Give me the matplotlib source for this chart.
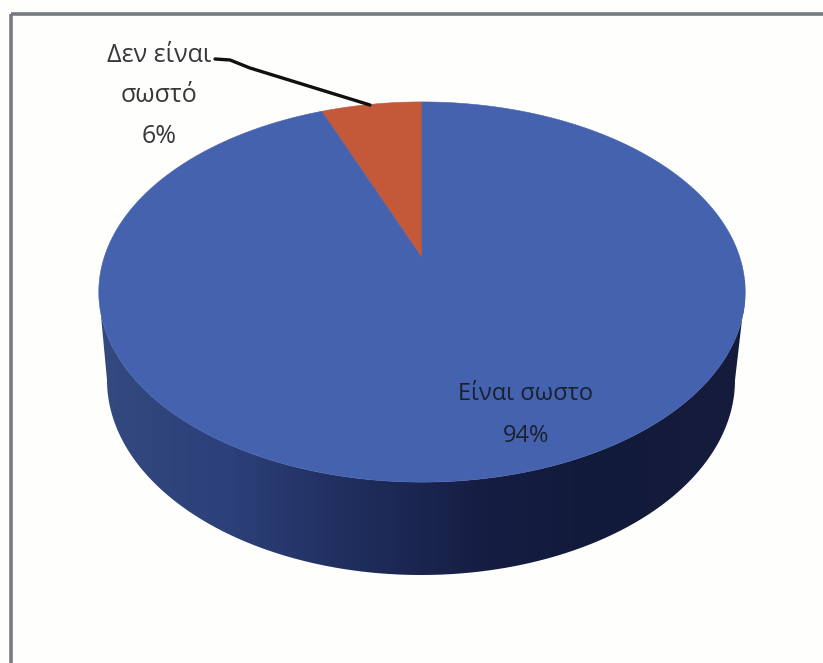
import numpy as np
import matplotlib
matplotlib.use("Agg")
import matplotlib.pyplot as plt
from matplotlib.patches import Polygon, Rectangle

labels = ["Δεν είναι\nσωστό\n6%", "Είναι σωστο\n94%"]
values = [6, 94]
colors = ["#c4593a", "#4462ad"]

W, H = 823, 663
plt.rcParams['font.family'] = ['Open Sans', 'DejaVu Sans']
fig = plt.figure(figsize=(W/100, H/100), dpi=100, facecolor="#fefefd")
ax = fig.add_axes([0, 0, 1, 1])
ax.set_xlim(0, W)
ax.set_ylim(H, 0)
ax.axis("off")

X0, Y0, RX, RY, K = 422, 258, 318, 184, 0.179


def project(theta):
    x, y = np.cos(theta), np.sin(theta)
    d = 1 + K * y
    return np.column_stack([X0 + RX * x / d, Y0 - RY * y / d])


# side wall, with a horizontal shade
t = np.linspace(np.pi, 2 * np.pi, 200)
rim_top = project(t)
lower = np.column_stack([421 + 314 * np.cos(t), 380 - 195 * np.sin(t)])
side = np.vstack([project(np.array([np.pi + np.arcsin(K)])), lower,
                  project(np.array([-np.arcsin(K)])), rim_top[::-1]])
shade = matplotlib.colors.LinearSegmentedColormap.from_list(
    "side", ["#33497f", "#2c4079", "#1f2d5c", "#151d42", "#121a3a", "#161c3c"])
img = ax.imshow(np.linspace(0, 1, 256)[None, :], cmap=shade, aspect="auto",
                extent=[100, 745, 580, 280], zorder=1)
clip = Polygon(side, closed=True, transform=ax.transData, fc="none", ec="none")
ax.add_patch(clip)
img.set_clip_path(clip)
ax.set_xlim(0, W)
ax.set_ylim(H, 0)

# top face, slices from the values
edges = np.cumsum([0] + values) / sum(values) * 2 * np.pi + np.pi / 2
for a, b, c in zip(edges[:-1], edges[1:], colors):
    arc = project(np.linspace(a, b, 400))
    ax.add_patch(Polygon(np.vstack([[X0, Y0], arc]), closed=True, fc=c, ec=c, lw=0.4, zorder=2))

# labels
ax.text(159, 96, labels[0], ha="center", va="center", fontsize=18, color="#38383c",
        linespacing=1.8, zorder=4)
ax.text(526, 415, labels[1], ha="center", va="center", fontsize=17, color="#1a2030",
        linespacing=2.0, zorder=4)

# leader
ax.plot([215, 230, 250, 370], [59, 60, 68, 105], color="#101010", lw=2.4,
        solid_capstyle="round", zorder=3)

# frame
ax.add_patch(Rectangle((11, 14), 900, 900, fc="none", ec="#777a80", lw=2.6, zorder=5))

fig.savefig("out.png", dpi=100)
